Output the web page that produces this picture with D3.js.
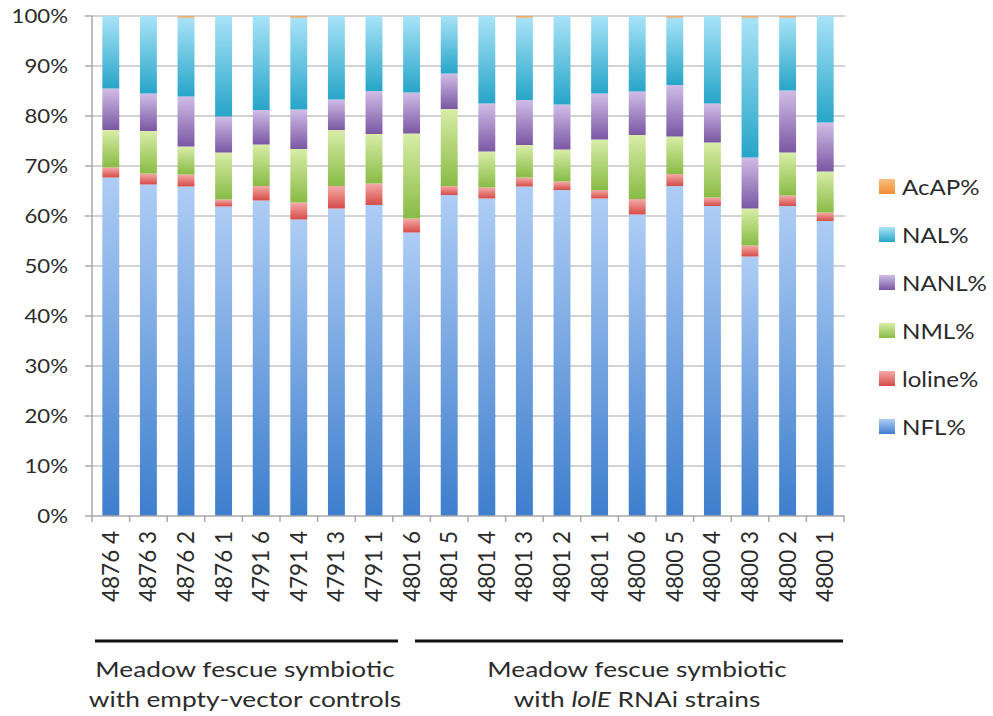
<!DOCTYPE html>
<html>
<head>
<meta charset="utf-8">
<script src="https://cdn.jsdelivr.net/npm/d3@7"></script>
<style>
  html, body { margin: 0; padding: 0; background: #fff; }
  svg { display: block; }
  text { font-family: Lato, "Open Sans", sans-serif; fill: #2b2b2b; }
</style>
</head>
<body>
<svg id="chart" width="993" height="716"></svg>
<script>
// ---- data ----
const categories = ["4876 4","4876 3","4876 2","4876 1","4791 6","4791 4","4791 3","4791 1",
  "4801 6","4801 5","4801 4","4801 3","4801 2","4801 1","4800 6","4800 5","4800 4","4800 3","4800 2","4800 1"];
const seriesNames = ["NFL%","loline%","NML%","NANL%","NAL%","AcAP%"];
const NFL    = [67.7,66.3,65.9,61.9,63.1,59.3,61.5,62.2,56.7,64.2,63.5,65.9,65.2,63.5,60.3,66.0,62.0,51.9,62.0,59.0];
const loline = [2.0,2.2,2.4,1.4,2.9,3.4,4.5,4.3,2.8,1.8,2.2,1.8,1.7,1.7,3.1,2.4,1.7,2.2,2.1,1.7];
const NML    = [7.5,8.5,5.6,9.4,8.3,10.7,11.2,9.9,17.0,15.4,7.2,6.5,6.4,10.1,12.8,7.5,11.0,7.4,8.6,8.2];
const NANL   = [8.3,7.5,10.0,7.2,6.9,7.9,6.1,8.6,8.2,7.1,9.6,9.0,9.0,9.2,8.7,10.3,7.8,10.2,12.4,9.8];
const NAL    = [14.5,15.5,15.8,20.1,18.8,18.4,16.7,15.0,15.3,11.5,17.5,16.5,17.7,15.5,15.1,13.5,17.5,28.0,14.6,21.3];
const AcAP   = [0,0,0.3,0,0,0.3,0,0,0,0,0,0.3,0,0,0,0.3,0,0.3,0.3,0];
const yTicks = [0,10,20,30,40,50,60,70,80,90,100];
const groupLabels = [
  {lines: ["Meadow fescue symbiotic", "with empty-vector controls"], from: 0, to: 7},
  {lines: ["Meadow fescue symbiotic", "with |lolE| RNAi strains"], from: 8, to: 19}
];

const seriesValues = {"NFL%": NFL, "loline%": loline, "NML%": NML, "NANL%": NANL, "NAL%": NAL, "AcAP%": AcAP};
const colors = {
  "NFL%":   ["#aecdf5", "#3e7ecd"],
  "loline%":["#f4aaa8", "#d64c48"],
  "NML%":   ["#d9eda8", "#88bb45"],
  "NANL%":  ["#d0bde6", "#7a57a4"],
  "NAL%":   ["#a9e3f8", "#27a5c8"],
  "AcAP%":  ["#fbc083", "#f28b35"]
};

const rows = categories.map((c, i) => {
  const r = {cat: c};
  seriesNames.forEach(s => r[s] = seriesValues[s][i]);
  return r;
});

// ---- layout ----
const L = 92, R = 844, T = 16, B = 516;
const svg = d3.select("#chart");
const defs = svg.append("defs");
seriesNames.forEach((s, k) => {
  const g = defs.append("linearGradient").attr("id", "g" + k)
    .attr("x1", 0).attr("y1", 0).attr("x2", 0).attr("y2", 1);
  g.append("stop").attr("offset", "0%").attr("stop-color", colors[s][0]);
  g.append("stop").attr("offset", "100%").attr("stop-color", colors[s][1]);
});

const x = d3.scaleBand().domain(categories).range([L, R]).paddingInner(0.55).paddingOuter(0.275);
const y = d3.scaleLinear().domain([0, 100]).range([B, T]);

// gridlines
svg.append("g").selectAll("line").data(yTicks.filter(t => t > 0)).join("line")
  .attr("x1", L).attr("x2", R + 1).attr("y1", d => y(d)).attr("y2", d => y(d))
  .attr("stroke", "#c4c4c4").attr("stroke-width", 1.5);

// bars
const stacked = d3.stack().keys(seriesNames)(rows);
stacked.forEach((layer, k) => {
  svg.append("g").selectAll("rect").data(layer).join("rect")
    .attr("x", d => x(d.data.cat))
    .attr("width", x.bandwidth())
    .attr("y", d => y(d[1]))
    .attr("height", d => Math.max(0, y(d[0]) - y(d[1])))
    .attr("fill", "url(#g" + k + ")");
});

// y axis
const yAxis = svg.append("g");
yAxis.append("line").attr("x1", L).attr("x2", L).attr("y1", T).attr("y2", B)
  .attr("stroke", "#a8a8a8").attr("stroke-width", 1.5);
yAxis.selectAll("line.tk").data(yTicks).join("line").attr("class", "tk")
  .attr("x1", L - 7).attr("x2", L).attr("y1", d => y(d)).attr("y2", d => y(d))
  .attr("stroke", "#a8a8a8").attr("stroke-width", 1.5);
yAxis.selectAll("text").data(yTicks).join("text")
  .attr("transform", d => `translate(68,${y(d) + 6.5}) scale(1.2,1)`)
  .attr("text-anchor", "end").attr("font-size", 18.5)
  .text(d => d + "%");

// x axis
const xAxis = svg.append("g");
xAxis.append("line").attr("x1", L).attr("x2", R + 1).attr("y1", B).attr("y2", B)
  .attr("stroke", "#a8a8a8").attr("stroke-width", 1.5);
const bounds = categories.map(c => x(c) - (x.step() - x.bandwidth()) / 2).concat([R]);
xAxis.selectAll("line.tk").data(bounds).join("line").attr("class", "tk")
  .attr("x1", d => d).attr("x2", d => d).attr("y1", B).attr("y2", B + 6)
  .attr("stroke", "#a8a8a8").attr("stroke-width", 1.5);
xAxis.selectAll("text").data(categories).join("text")
  .attr("transform", d => `translate(${x(d) + x.bandwidth() / 2 + 8},531) rotate(-90)`)
  .attr("text-anchor", "end").attr("font-size", 22.5)
  .text(d => d);

// group lines & captions
const capG = svg.append("g");
const groupLineX = [[95, 398], [415, 843]];
const captionX = [245, 637];
groupLabels.forEach((g, i) => {
  const [x1, x2] = groupLineX[i];
  capG.append("line").attr("x1", x1).attr("x2", x2).attr("y1", 641).attr("y2", 641)
    .attr("stroke", "#111").attr("stroke-width", 3);
  g.lines.forEach((ln, j) => {
    const t = capG.append("text")
      .attr("transform", `translate(${captionX[i]},${677 + j * 30}) scale(1.25,1)`)
      .attr("text-anchor", "middle").attr("font-size", 21);
    ln.split("|").forEach((part, p) => {
      const ts = t.append("tspan").text(part);
      if (p % 2 === 1) ts.attr("font-style", "italic");
    });
  });
});

// legend
const legendOrder = seriesNames.slice().reverse();
const lg = svg.append("g");
legendOrder.forEach((s, i) => {
  const cy = 187 + i * 48;
  const k = seriesNames.indexOf(s);
  lg.append("rect").attr("x", 879).attr("y", cy - 8).attr("width", 16).attr("height", 15)
    .attr("fill", "url(#g" + k + ")");
  lg.append("text").attr("transform", `translate(902,${cy + 7.5}) scale(1.15,1)`)
    .attr("font-size", 21).text(s);
});
</script>
</body>
</html>
